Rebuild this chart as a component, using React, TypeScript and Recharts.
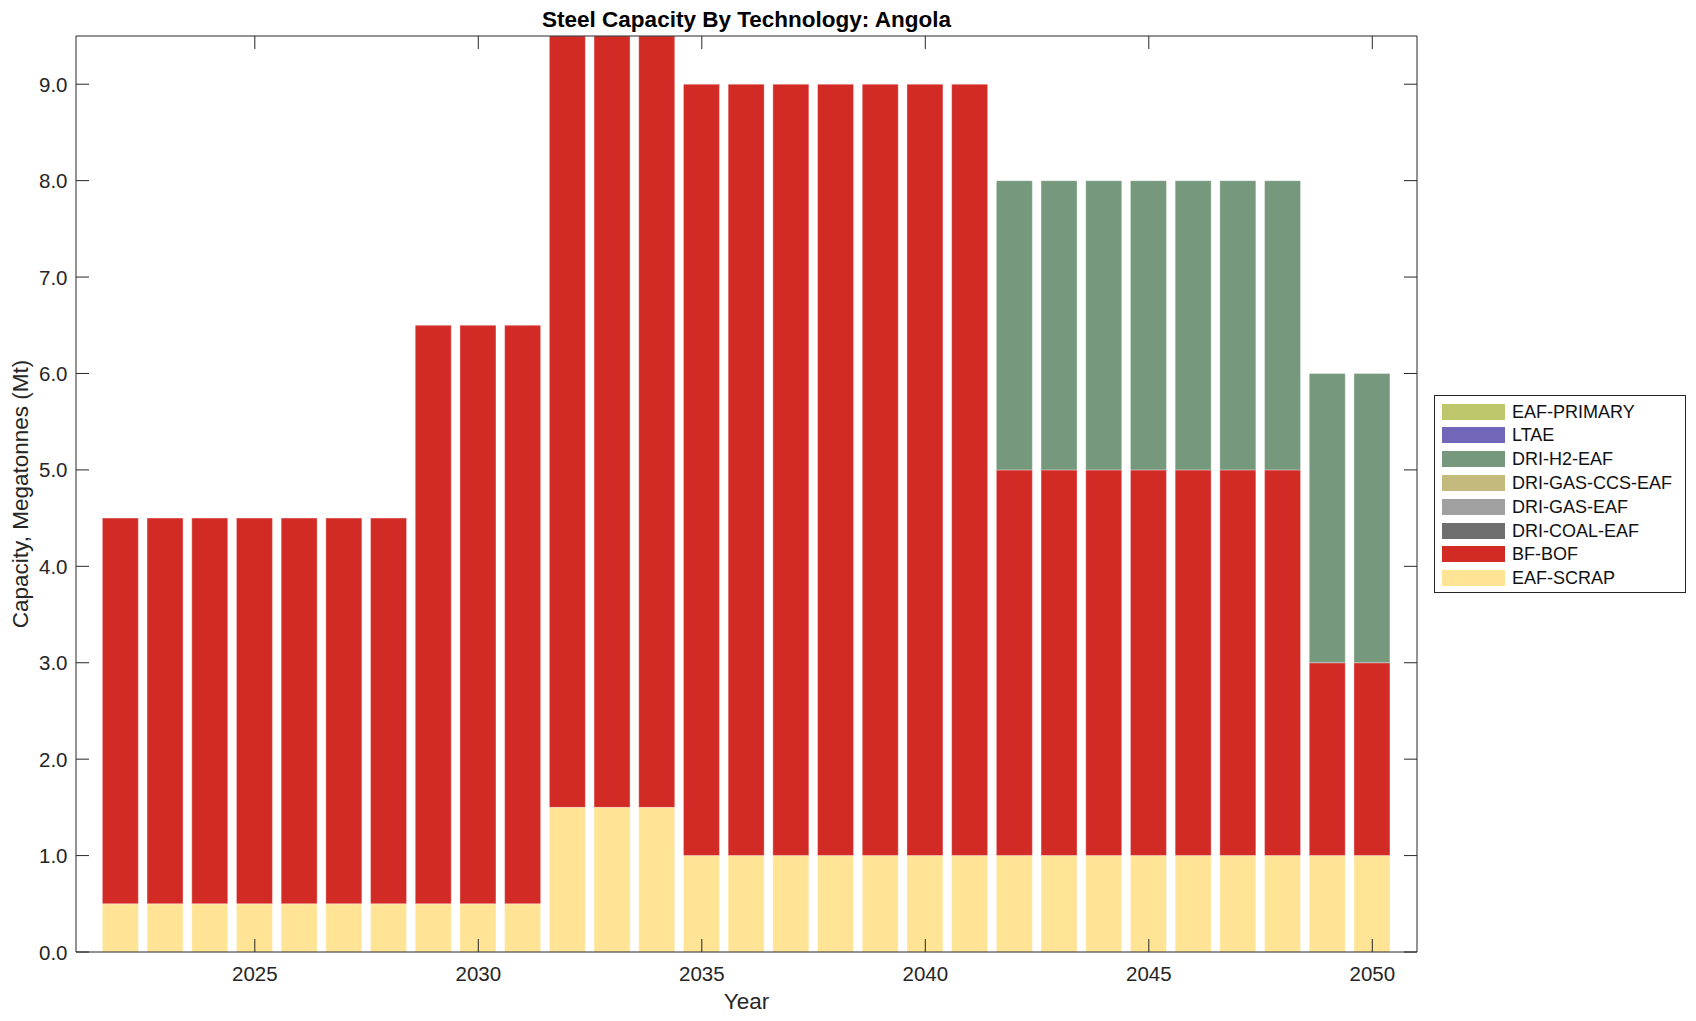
import React from 'react';
import { BarChart, Bar, XAxis, YAxis, Legend, Label } from 'recharts';

const YEARS = [
  2022, 2023, 2024, 2025, 2026, 2027, 2028, 2029, 2030, 2031,
  2032, 2033, 2034, 2035, 2036, 2037, 2038, 2039, 2040, 2041,
  2042, 2043, 2044, 2045, 2046, 2047, 2048, 2049, 2050,
];
const EAF_SCRAP = [
  0.5, 0.5, 0.5, 0.5, 0.5, 0.5, 0.5, 0.5, 0.5, 0.5,
  1.5, 1.5, 1.5, 1.0, 1.0, 1.0, 1.0, 1.0, 1.0, 1.0,
  1.0, 1.0, 1.0, 1.0, 1.0, 1.0, 1.0, 1.0, 1.0,
];
const BF_BOF = [
  4.0, 4.0, 4.0, 4.0, 4.0, 4.0, 4.0, 6.0, 6.0, 6.0,
  8.0, 8.0, 8.0, 8.0, 8.0, 8.0, 8.0, 8.0, 8.0, 8.0,
  4.0, 4.0, 4.0, 4.0, 4.0, 4.0, 4.0, 2.0, 2.0,
];
const DRI_H2_EAF = [
  0, 0, 0, 0, 0, 0, 0, 0, 0, 0,
  0, 0, 0, 0, 0, 0, 0, 0, 0, 0,
  3.0, 3.0, 3.0, 3.0, 3.0, 3.0, 3.0, 3.0, 3.0,
];

const LEGEND_NAMES = [
  'EAF-PRIMARY', 'LTAE', 'DRI-H2-EAF', 'DRI-GAS-CCS-EAF',
  'DRI-GAS-EAF', 'DRI-COAL-EAF', 'BF-BOF', 'EAF-SCRAP',
];
const LEGEND_COLORS = [
  '#BDC66B', '#7167B9', '#76997E', '#C5BA7E',
  '#A0A0A0', '#6E6E6E', '#D22B26', '#FFE495',
];

const Y_TICKS = [0, 1, 2, 3, 4, 5, 6, 7, 8, 9];
const X_TICKS = [2025, 2030, 2035, 2040, 2045, 2050];

const TITLE = 'Steel Capacity By Technology: Angola';
const X_LABEL = 'Year';
const Y_LABEL = 'Capacity, Megatonnes (Mt)';

const data = YEARS.map((year, i) => ({
  year,
  'EAF-SCRAP': EAF_SCRAP[i],
  'BF-BOF': BF_BOF[i],
  'DRI-H2-EAF': DRI_H2_EAF[i],
}));

const colorOf = (name: string) => LEGEND_COLORS[LEGEND_NAMES.indexOf(name)];

const FONT = "'Liberation Sans', Arial, Helvetica, sans-serif";
const AXIS = '#262626';
const W = 1688;
const H = 1013;
// plot area: left 68, top 28, right 1409, bottom 944 (each axis takes 1px)
const M = { top: 27, right: 278, bottom: 68, left: 67 };
const PLOT_L = 68;
const PLOT_R = 1409;
const PLOT_T = 28;
const PLOT_B = 944;
const PLOT_CX = (PLOT_L + PLOT_R) / 2;
const PLOT_CY = (PLOT_T + PLOT_B) / 2;

const LeftTick = (props: any) => {
  const { x, y, payload } = props;
  return (
    <g>
      <line x1={x} x2={x + 13} y1={y} y2={y} stroke={AXIS} strokeWidth={1} />
      <text x={x - 8.5} y={y + 7.5} textAnchor="end" fontSize={20.5} fill={AXIS} fontFamily={FONT}>
        {Number(payload.value).toFixed(1)}
      </text>
    </g>
  );
};
const RightTick = (props: any) => {
  const { x, y } = props;
  return <line x1={x - 13} x2={x} y1={y} y2={y} stroke={AXIS} strokeWidth={1} />;
};
const BottomTick = (props: any) => {
  const { x, y, payload } = props;
  return (
    <g>
      <line x1={x} x2={x} y1={y} y2={y - 13} stroke={AXIS} strokeWidth={1} />
      <text x={x} y={y + 28.5} textAnchor="middle" fontSize={20.5} fill={AXIS} fontFamily={FONT}>
        {payload.value}
      </text>
    </g>
  );
};
const TopTick = (props: any) => {
  const { x, y } = props;
  return <line x1={x} x2={x} y1={y} y2={y + 13} stroke={AXIS} strokeWidth={1} />;
};

const LegendBox = () => (
  <div
    style={{
      position: 'relative',
      width: 252,
      height: 198,
      boxSizing: 'border-box',
      border: `1px solid ${AXIS}`,
      background: '#fff',
      fontFamily: FONT,
    }}
  >
    {LEGEND_NAMES.map((name, i) => {
      const cy = 16.7 + i * 23.76 - 1;
      return (
        <React.Fragment key={name}>
          <div
            style={{
              position: 'absolute',
              left: 7,
              top: cy - 8,
              width: 63,
              height: 16,
              background: LEGEND_COLORS[i],
            }}
          />
          <div
            style={{
              position: 'absolute',
              left: 77,
              top: cy - 11,
              height: 22,
              lineHeight: '22px',
              fontSize: 18,
              color: '#111',
              whiteSpace: 'nowrap',
            }}
          >
            {name}
          </div>
        </React.Fragment>
      );
    })}
  </div>
);

const STACK_ORDER = ['EAF-SCRAP', 'BF-BOF', 'DRI-H2-EAF'];

export default function App() {
  return (
    <BarChart width={W} height={H} data={data} margin={M}>
      <XAxis
        dataKey="year"
        type="number"
        domain={[2021, 2051]}
        allowDataOverflow
        ticks={X_TICKS}
        interval={0}
        height={1}
        tickSize={0}
        tickMargin={0}
        tickLine={false}
        tick={<BottomTick />}
        axisLine={{ stroke: AXIS, strokeWidth: 1 }}
      >
        <Label
          content={() => (
            <text x={PLOT_CX} y={1001.3} textAnchor="middle" fontSize={22.5} fill={AXIS} fontFamily={FONT}>
              {X_LABEL}
            </text>
          )}
        />
      </XAxis>
      <XAxis
        xAxisId="top"
        orientation="top"
        dataKey="year"
        type="number"
        domain={[2021, 2051]}
        allowDataOverflow
        ticks={X_TICKS}
        interval={0}
        height={1}
        tickSize={0}
        tickMargin={0}
        tickLine={false}
        tick={<TopTick />}
        axisLine={{ stroke: AXIS, strokeWidth: 1 }}
      >
        <Label
          content={() => (
            <text x={PLOT_CX} y={19.3} textAnchor="middle" fontSize={22.5} fontWeight="bold" fill="#000" fontFamily={FONT}>
              {TITLE}
            </text>
          )}
        />
      </XAxis>
      <YAxis
        type="number"
        domain={[0, 9.5]}
        allowDataOverflow
        ticks={Y_TICKS}
        interval={0}
        width={1}
        tickSize={0}
        tickMargin={0}
        tickLine={false}
        tick={<LeftTick />}
        axisLine={{ stroke: AXIS, strokeWidth: 1 }}
      >
        <Label
          content={() => (
            <text
              x={19.5}
              y={PLOT_CY}
              textAnchor="middle"
              fontSize={22.5}
              fill={AXIS}
              fontFamily={FONT}
              transform={`rotate(-90, 19.5, ${PLOT_CY})`}
            >
              {Y_LABEL}
            </text>
          )}
        />
      </YAxis>
      <YAxis
        yAxisId="right"
        orientation="right"
        type="number"
        domain={[0, 9.5]}
        allowDataOverflow
        ticks={Y_TICKS}
        interval={0}
        width={1}
        tickSize={0}
        tickMargin={0}
        tickLine={false}
        tick={<RightTick />}
        axisLine={{ stroke: AXIS, strokeWidth: 1 }}
      />
      <Legend
        layout="vertical"
        align="center"
        verticalAlign="middle"
        content={() => <LegendBox />}
        wrapperStyle={{ left: 1426, top: 387, width: 252, height: 198 }}
      />
      {STACK_ORDER.map((name) => (
        <Bar
          key={name}
          dataKey={name}
          stackId="cap"
          fill={colorOf(name)}
          stroke="rgba(255,255,255,0.35)"
          strokeWidth={1}
          barSize={36}
          isAnimationActive={false}
        />
      ))}
    </BarChart>
  );
}
